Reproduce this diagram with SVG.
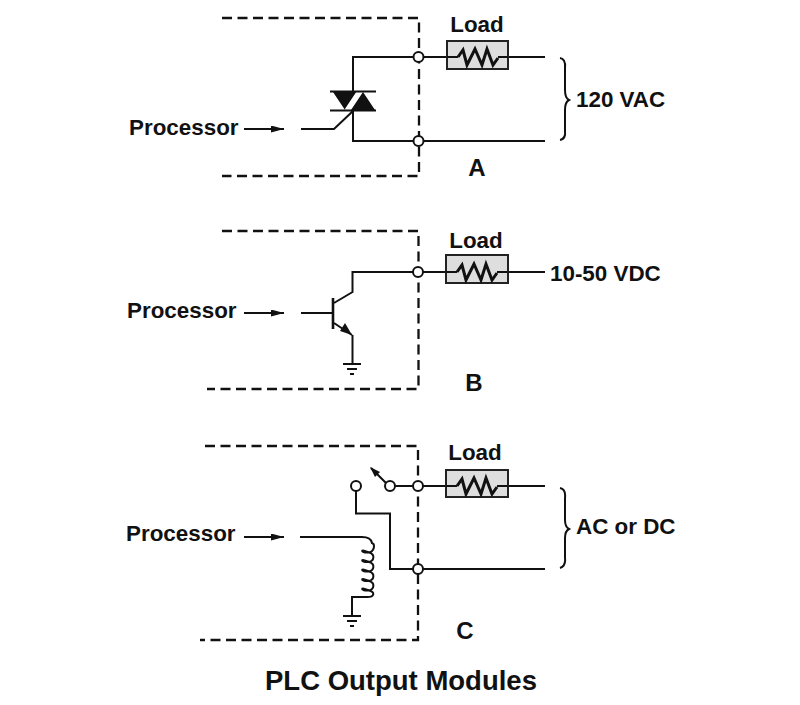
<svg xmlns="http://www.w3.org/2000/svg" width="800" height="705" viewBox="0 0 800 705">
<style>
text{font-family:"Liberation Sans",Arial,sans-serif;font-weight:bold;fill:#111;font-size:22.4px}
.w{fill:none;stroke:#111;stroke-width:2}
.d{fill:none;stroke:#111;stroke-width:2.300;stroke-dasharray:10 5.500}
.c{fill:#fff;stroke:#111;stroke-width:2}
.b{fill:#dedede;stroke:#222;stroke-width:2}
.r{fill:none;stroke:#111;stroke-width:3;stroke-linejoin:miter}
.k{fill:#111;stroke:none}
.l{font-size:24px}
</style>
<defs>
<marker id="ah" markerWidth="14" markerHeight="8" refX="13" refY="3.500" orient="auto" markerUnits="userSpaceOnUse"><path d="M0 0L13 3.500L0 7Z" fill="#111"/></marker>
<g id="ground"><path class="w" d="M-9 0H9M-5 5H5"/><path d="M-2 10H2" stroke="#111" stroke-width="2"/></g>
<path id="zig" class="r" d="M-14 0L-9 -7L-5 8L3 -8L10 8L15 -8L21 8L26 1"/>
</defs>
<g id="module-a">
<path class="d" d="M222 18H419V176H222"/>
<path class="w" d="M545 57H353V91M353 110V141H545"/>
<path class="k" d="M333 92H357L345 110ZM351 110H375L363 92Z"/>
<path d="M346 110L358 92" stroke="#fff" stroke-width="3"/>
<path class="w" d="M330 91.500H376M330 110.500H376M301 129H334L353 111"/>
<path class="w" d="M244 129H284" marker-end="url(#ah)"/>
<rect class="b" x="447" y="41" width="61" height="28"/>
<path class="w" d="M447 57H458M498 57H508"/>
<use href="#zig" x="472" y="57"/>
<circle class="c" cx="418.500" cy="57" r="5"/>
<circle class="c" cx="418.500" cy="141" r="5"/>
<path class="w" d="M560 58Q566 59 565 68V90Q565 98 569 100Q565 102 565 110V131Q566 139 560 140"/>
<text x="477" y="32" text-anchor="middle">Load</text>
<text x="129" y="135">Processor</text>
<text x="576" y="107">120 VAC</text>
<text class="l" x="477" y="176" text-anchor="middle">A</text>
</g>
<g id="module-b">
<path class="d" d="M222 231H418.500V389H207"/>
<path class="w" d="M545 272H352.500V292L334 303M301 313H333M352.500 335V363"/>
<path d="M333 298V329" stroke="#111" stroke-width="2.600"/>
<path class="w" d="M334 323L352 335"/>
<path class="k" d="M352 335L340 331L345 323Z"/>
<path class="w" d="M244 313H284" marker-end="url(#ah)"/>
<use href="#ground" x="352" y="364"/>
<rect class="b" x="446" y="255" width="62" height="28"/>
<path class="w" d="M446 272H457M497 272H508"/>
<use href="#zig" x="471" y="272"/>
<circle class="c" cx="418" cy="272" r="5"/>
<text x="476" y="248" text-anchor="middle">Load</text>
<text x="127" y="318">Processor</text>
<text x="550" y="281">10-50 VDC</text>
<text class="l" x="474" y="391" text-anchor="middle">B</text>
</g>
<g id="module-c">
<path class="d" d="M205 446H418V640H200"/>
<path class="w" d="M545 486H395M386 483L371 468M356 491V513.500H390V569H545"/>
<path class="k" d="M370 467L380 472L375 477Z"/>
<path class="w" d="M300 537H362Q371 537 372 543C375 544 375 552 368 552.500C360 553 360 548 369 552.500C375 554 375 561 368 562C360 562.500 360 557.500 369 562C375 563.500 375 570.500 368 571.500C360 572 360 567 369 571.500C375 573 375 580 368 581C360 581.500 360 576.500 369 581C375 582.500 375 589.500 368 590.500C360 591 360 586 369 590.500C375 592 375 597 367 597H352V615"/>
<path class="w" d="M244 537H284" marker-end="url(#ah)"/>
<use href="#ground" x="352" y="616"/>
<rect class="b" x="446" y="470" width="62" height="27"/>
<path class="w" d="M446 486H457M497 486H508"/>
<use href="#zig" x="471" y="486"/>
<circle class="c" cx="356" cy="486" r="5"/>
<circle class="c" cx="390" cy="486" r="5"/>
<circle class="c" cx="418" cy="486" r="5"/>
<circle class="c" cx="418" cy="569" r="5"/>
<path class="w" d="M560 488Q566 489 565 498V520Q565 527 569 529Q565 531 565 538V558Q566 566 560 568"/>
<text x="475" y="460" text-anchor="middle">Load</text>
<text x="126" y="541">Processor</text>
<text x="576" y="534">AC or DC</text>
<text class="l" x="465" y="639" text-anchor="middle">C</text>
</g>
<text id="title" x="401" y="690" text-anchor="middle" style="font-size:27.500px">PLC Output Modules</text>
</svg>
